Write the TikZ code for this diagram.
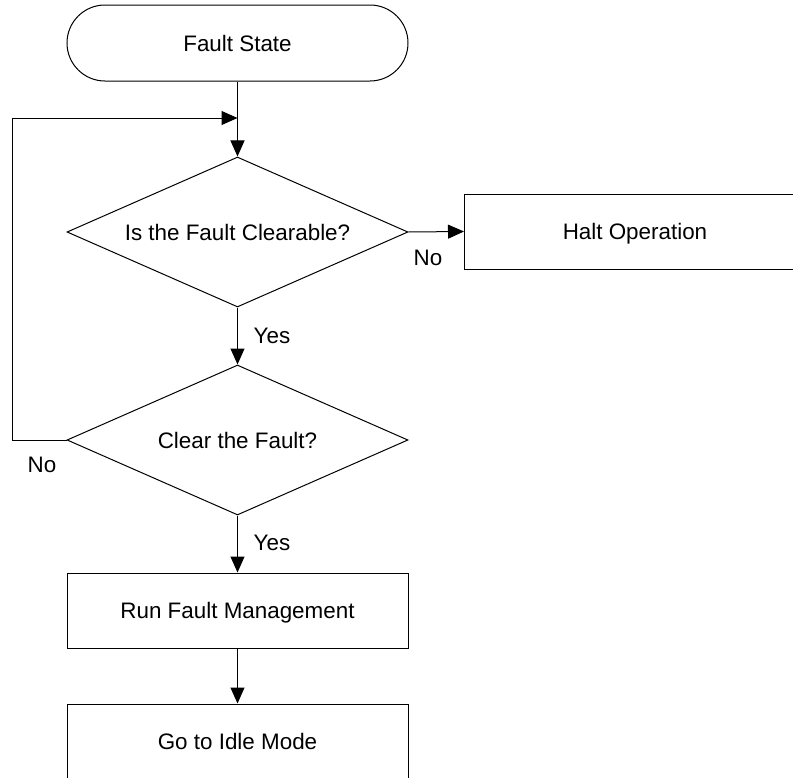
\documentclass[tikz,border=0pt]{standalone}
\usepackage{fontspec}
\setmainfont{Liberation Sans}
\usetikzlibrary{shapes.geometric,arrows.meta}
\begin{document}
\begin{tikzpicture}[x=0.75pt,y=-0.75pt,
  every node/.style={font=\fontsize{16.8}{20}\selectfont, inner sep=0pt, text height=12pt, text depth=0pt},
  line/.style={draw, line width=0.75pt},
  arr/.style={line, -{Triangle[length=12pt,width=10.5pt]}},
  box/.style={line, rectangle, minimum width=255.75pt, minimum height=56.25pt},
  term/.style={line, rectangle, rounded corners=28.5pt, minimum width=255.75pt, minimum height=57pt},
  dec/.style={line, diamond, aspect=2.2733, minimum width=255.75pt, minimum height=112.5pt},
  lbl/.style={}]
\useasboundingbox (0,0) rectangle (793,778);
\clip (0,0) rectangle (793,778);
\node[term] (fs) at (237.5,43) {Fault State};
\node[dec] (d1) at (237.5,232) {Is the Fault Clearable?};
\node[box] (halt) at (635,231.5) {Halt Operation};
\node[dec] (d2) at (237.5,440) {Clear the Fault?};
\node[box] (run) at (237.5,610.5) {Run Fault Management};
\node[box] (go) at (237.5,741.5) {Go to Idle Mode};
\coordinate (j) at (237.5,118);
\coordinate (lc) at (12,440);
\draw[arr] (fs) -- (d1);
\draw[arr] (d2.west) -- (lc) |- (j);
\draw[arr] (d1.east) -- (halt.west);
\draw[arr] (d1.south) -- (d2.north);
\draw[arr] (d2.south) -- (run.north);
\draw[arr] (run.south) -- (go.north);
\node[lbl] (no1) at (428,257) {No};
\node[lbl] (no2) at (42,464) {No};
\node[lbl] (yes1) at (272,335) {Yes};
\node[lbl] (yes2) at (272,542) {Yes};
\end{tikzpicture}
\end{document}
